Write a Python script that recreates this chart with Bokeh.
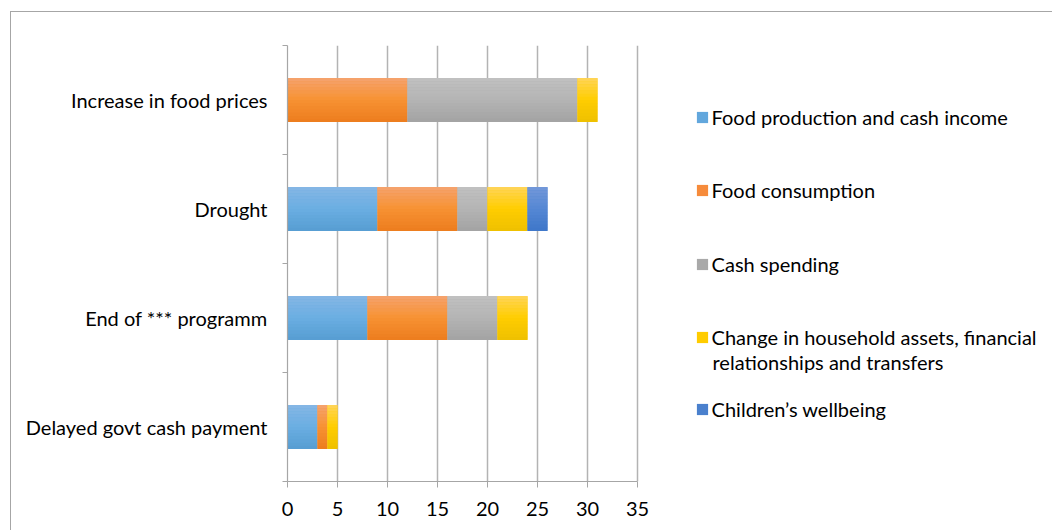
from bokeh.plotting import figure
from bokeh.models import (FixedTicker, Legend, LegendItem, Label, Range1d, ColumnDataSource)
from bokeh.embed import file_html
from bokeh.resources import INLINE

# ---------------- data ----------------
categories = ["Delayed govt cash payment", "End of *** programm", "Drought", "Increase in food prices"]
series_names = [
    "Food production and cash income",
    "Food consumption",
    "Cash spending",
    "Change in household assets, financial",
    "Children\u2019s wellbeing",
]
legend_second_line = "relationships and transfers"
food_production = [3, 8, 9, 0]
food_consumption = [1, 8, 8, 12]
cash_spending = [0, 5, 3, 17]
household_assets = [1, 3, 4, 2]
children_wellbeing = [0, 0, 2, 0]
x_ticks = [0, 5, 10, 15, 20, 25, 30, 35]

series_values = [food_production, food_consumption, cash_spending, household_assets, children_wellbeing]

# (top, mid, bottom) gradient colours and legend colour
grad = [
    ("#86b7e5", "#6aaee2", "#579dd2"),
    ("#f5a36f", "#f79232", "#ec7c1e"),
    ("#c1c1c1", "#b4b4b4", "#a3a3a3"),
    ("#ffd55a", "#ffcd00", "#eec000"),
    ("#7398d9", "#5587d4", "#3e77c9"),
]
legend_colors = ["#62a7dd", "#f68b3b", "#a9a9a9", "#ffcc00", "#4a80cd"]

FONT = "Lato"
FS = "20px"
GRAY = "#a6a6a6"


def hex2rgb(h):
    h = h.lstrip("#")
    return tuple(int(h[i:i + 2], 16) for i in (0, 2, 4))


def lerp(c1, c2, t):
    a, b = hex2rgb(c1), hex2rgb(c2)
    return "#%02x%02x%02x" % tuple(int(round(a[k] + (b[k] - a[k]) * t)) for k in range(3))


def grad_color(stops, t):
    if t < 0.5:
        return lerp(stops[0], stops[1], t / 0.5)
    return lerp(stops[1], stops[2], (t - 0.5) / 0.5)


y_pos = [i + 0.5 for i in range(len(categories))]
BAR_H = 0.4
N_STRIPS = 14

# layout (absolute page pixels)
BORDER_X, BORDER_Y = 10, 11
CANVAS_X, CANVAS_Y = BORDER_X + 1, BORDER_Y + 1
W, H = 1053 - CANVAS_X, 531 - CANVAS_Y
FRAME_L, FRAME_T, FRAME_B = 287, 45, 481
PX_PER_UNIT = 10.0
frame_w = W - (FRAME_L - CANVAS_X)

p = figure(width=W, height=H, x_range=Range1d(0, frame_w / PX_PER_UNIT), y_range=Range1d(0, 4),
           output_backend="svg", toolbar_location=None,
           min_border_left=FRAME_L - CANVAS_X, min_border_right=0,
           min_border_top=FRAME_T - CANVAS_Y, min_border_bottom=(CANVAS_Y + H) - FRAME_B)
p.styles = {"margin-left": f"{BORDER_X}px", "margin-top": f"{BORDER_Y}px",
            "border-left": f"1px solid {GRAY}", "border-top": f"1px solid {GRAY}"}
p.outline_line_color = None
p.background_fill_color = "white"
p.border_fill_color = "white"

p.ygrid.visible = False
p.xgrid.ticker = FixedTicker(ticks=x_ticks)
p.xgrid.grid_line_color = "#b3b3b3"
p.xgrid.grid_line_width = 1.5

p.xaxis.ticker = FixedTicker(ticks=x_ticks)
p.xaxis.bounds = (x_ticks[0], x_ticks[-1])
p.xaxis.axis_line_color = GRAY
p.xaxis.axis_line_width = 1.2
p.xaxis.major_tick_line_color = GRAY
p.xaxis.major_tick_out = 6
p.xaxis.major_tick_in = 0
p.xaxis.minor_tick_line_color = None
p.xaxis.major_label_text_font = FONT
p.xaxis.major_label_text_font_size = FS
p.xaxis.major_label_text_color = "#000000"
p.xaxis.major_label_standoff = 14

p.yaxis.ticker = FixedTicker(ticks=y_pos, minor_ticks=[0, 1, 2, 3, 4])
p.yaxis.major_label_overrides = {y: c for y, c in zip(y_pos, categories)}
p.yaxis.axis_line_color = GRAY
p.yaxis.axis_line_width = 1.2
p.yaxis.major_tick_line_color = None
p.yaxis.major_tick_out = 0
p.yaxis.major_tick_in = 0
p.yaxis.minor_tick_line_color = GRAY
p.yaxis.minor_tick_out = 5
p.yaxis.minor_tick_in = 0
p.yaxis.major_label_text_font = FONT
p.yaxis.major_label_text_font_size = FS
p.yaxis.major_label_text_color = "#000000"
p.yaxis.major_label_standoff = 15

left = [0] * len(categories)
base_renderers = []
for s, vals in enumerate(series_values):
    right = [l + v for l, v in zip(left, vals)]
    src = ColumnDataSource(dict(y=y_pos, left=left, right=right))
    r = p.hbar(y="y", left="left", right="right", height=BAR_H, source=src,
               fill_color=legend_colors[s], line_color=None)
    base_renderers.append(r)
    for k in range(N_STRIPS):
        t = (k + 0.5) / N_STRIPS
        off = BAR_H / 2 - (k + 0.5) * BAR_H / N_STRIPS
        ssrc = ColumnDataSource(dict(y=[y + off for y in y_pos], left=left, right=right))
        p.hbar(y="y", left="left", right="right", height=BAR_H / N_STRIPS * 1.08, source=ssrc,
               fill_color=grad_color(grad[s], t), line_color=None)
    left = right

# legend: one Legend per entry for exact placement
legend_centers = [118, 191, 265, 338, 410]
ITEM_H = 24
GLYPH = 14  # legend glyph area; the square drawn is inset by 10% each side
for s, name in enumerate(series_names):
    lg = Legend(items=[LegendItem(label=name, renderers=[base_renderers[s]])],
                location=(696 - GLYPH * 0.1 - FRAME_L, FRAME_B - legend_centers[s] - ITEM_H / 2 + 1),
                glyph_width=GLYPH, glyph_height=GLYPH, label_standoff=3, padding=0, margin=0,
                border_line_color=None, background_fill_alpha=0, label_height=ITEM_H, spacing=0,
                label_text_font=FONT, label_text_font_size=FS, label_text_color="#000000")
    p.add_layout(lg, "center")

p.add_layout(Label(x=712 - FRAME_L, y=FRAME_B - 361, x_units="screen", y_units="screen",
                   text=legend_second_line, text_baseline="middle",
                   text_font=FONT, text_font_size=FS, text_color="#000000"))

open("out.html", "w").write(file_html(p, INLINE))
